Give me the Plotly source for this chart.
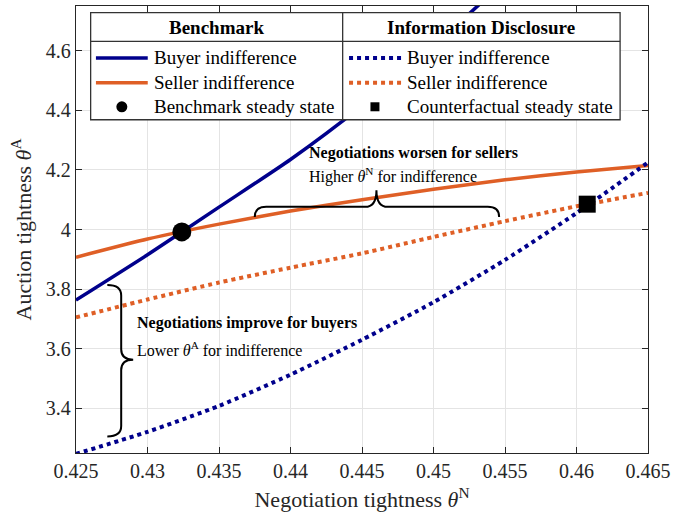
import plotly.graph_objects as go

# ---------------- data ----------------
x_grid = [0.425, 0.430, 0.435, 0.440, 0.445, 0.450, 0.455, 0.460, 0.465]
bench_buyer_x = [0.425, 0.430, 0.435, 0.440, 0.445, 0.450, 0.455]
bench_buyer_y = [3.763, 3.915, 4.075, 4.235, 4.415, 4.615, 4.835]
bench_seller_y = [3.907, 3.968, 4.018, 4.062, 4.100, 4.135, 4.167, 4.193, 4.215]
info_buyer_y = [3.247, 3.321, 3.408, 3.513, 3.630, 3.756, 3.898, 4.055, 4.225]
info_seller_y = [3.705, 3.765, 3.822, 3.872, 3.920, 3.975, 4.028, 4.078, 4.123]
bench_ss_x, bench_ss_y = [0.4324], [3.992]
counter_ss_x, counter_ss_y = [0.46075], [4.085]

x_ticks = [0.425, 0.43, 0.435, 0.44, 0.445, 0.45, 0.455, 0.46, 0.465]
x_ticklabels = ["0.425", "0.43", "0.435", "0.44", "0.445", "0.45", "0.455", "0.46", "0.465"]
y_ticks = [3.4, 3.6, 3.8, 4.0, 4.2, 4.4, 4.6]
y_ticklabels = ["3.4", "3.6", "3.8", "4", "4.2", "4.4", "4.6"]

NAVY = "#00008C"
ORANGE = "#DF5F26"
FONT = "Liberation Serif, Times New Roman, serif"
AX = "#262626"

# ---------------- figure ----------------
fig = go.Figure()
fig.add_trace(go.Scatter(x=bench_buyer_x, y=bench_buyer_y, mode="lines",
                         line=dict(color=NAVY, width=3.5, shape="spline", smoothing=0.6),
                         showlegend=False))
fig.add_trace(go.Scatter(x=x_grid, y=bench_seller_y, mode="lines",
                         line=dict(color=ORANGE, width=3.5, shape="spline", smoothing=0.6),
                         showlegend=False))
fig.add_trace(go.Scatter(x=x_grid, y=info_buyer_y, mode="lines",
                         line=dict(color=NAVY, width=4, dash="dot", shape="spline", smoothing=0.6),
                         showlegend=False))
fig.add_trace(go.Scatter(x=x_grid, y=info_seller_y, mode="lines",
                         line=dict(color=ORANGE, width=4, dash="dot", shape="spline", smoothing=0.6),
                         showlegend=False))
fig.add_trace(go.Scatter(x=bench_ss_x, y=bench_ss_y, mode="markers",
                         marker=dict(symbol="circle", size=19, color="black"),
                         showlegend=False))
fig.add_trace(go.Scatter(x=counter_ss_x, y=counter_ss_y, mode="markers",
                         marker=dict(symbol="square", size=17, color="black"),
                         showlegend=False))

# pixel -> paper helpers (plot area: x 76..650, y 5..453)
L, R, T, B = 76, 650, 5, 453
def px(v):
    return (v - L) / (R - L)
def py(v):
    return (B - v) / (B - T)

shapes = []
annotations = []

# ---- braces (data coordinates) ----
xa, xb, xm = 0.43750, 0.45459, 0.44601
ye, yl, yt = 4.042, 4.076, 4.132
r = 0.0008
shapes.append(dict(type="path", xref="x", yref="y", layer="above",
                   path=(f"M {xa},{ye} Q {xa},{yl} {xa + r},{yl} L {xm - r},{yl} "
                         f"Q {xm},{yl} {xm},{yt} Q {xm},{yl} {xm + r},{yl} "
                         f"L {xb - r},{yl} Q {xb},{yl} {xb},{ye}"),
                   line=dict(color="black", width=2)))
xe, xl, xt = 0.42719, 0.42816, 0.42900
ytop, ybot, ym = 3.8134, 3.3052, 3.5632
ry = 0.035
shapes.append(dict(type="path", xref="x", yref="y", layer="above",
                   path=(f"M {xe},{ytop} Q {xl},{ytop} {xl},{ytop - ry} L {xl},{ym + ry} "
                         f"Q {xl},{ym} {xt},{ym} Q {xl},{ym} {xl},{ym - ry} "
                         f"L {xl},{ybot + ry} Q {xl},{ybot} {xe},{ybot}"),
                   line=dict(color="black", width=2)))

# ---- manual legend ----
LEG_L, LEG_R, LEG_T, LEG_B, LEG_MID, LEG_HDR = 90.7, 622, 11.7, 119, 343.6, 40.4
shapes.append(dict(type="rect", xref="paper", yref="paper", layer="above",
                   x0=px(LEG_L), x1=px(LEG_R), y0=py(LEG_B), y1=py(LEG_T),
                   fillcolor="white", line=dict(color="#333333", width=1.3)))
shapes.append(dict(type="line", xref="paper", yref="paper", layer="above",
                   x0=px(LEG_MID), x1=px(LEG_MID), y0=py(LEG_B), y1=py(LEG_T),
                   line=dict(color="#333333", width=1.3)))
shapes.append(dict(type="line", xref="paper", yref="paper", layer="above",
                   x0=px(LEG_L), x1=px(LEG_R), y0=py(LEG_HDR), y1=py(LEG_HDR),
                   line=dict(color="#333333", width=1.3)))
row_y = [57, 82, 106]
for (c, dash, w, x0, x1, yy) in [
    (NAVY, "solid", 3.5, 96, 148, row_y[0]),
    (ORANGE, "solid", 3.5, 96, 148, row_y[1]),
    (NAVY, "dot", 4, 350, 403, row_y[0]),
    (ORANGE, "dot", 4, 350, 403, row_y[1]),
]:
    shapes.append(dict(type="line", xref="paper", yref="paper", layer="above",
                       x0=px(x0), x1=px(x1), y0=py(yy), y1=py(yy),
                       line=dict(color=c, width=w, dash=dash)))
shapes.append(dict(type="circle", xref="paper", yref="paper", layer="above",
                   xsizemode="pixel", ysizemode="pixel",
                   xanchor=px(122), yanchor=py(row_y[2]),
                   x0=-5.5, x1=5.5, y0=-5.5, y1=5.5,
                   fillcolor="black", line=dict(color="black", width=0)))
shapes.append(dict(type="rect", xref="paper", yref="paper", layer="above",
                   xsizemode="pixel", ysizemode="pixel",
                   xanchor=px(376), yanchor=py(row_y[2]),
                   x0=-4.5, x1=4.5, y0=-4.5, y1=4.5,
                   fillcolor="black", line=dict(color="black", width=0)))

def txt(x, y, s, size, anchor="left"):
    annotations.append(dict(xref="paper", yref="paper", x=px(x), y=py(y), text=s,
                            showarrow=False, xanchor=anchor, yanchor="middle",
                            font=dict(family=FONT, size=size, color="black")))

txt((LEG_L + LEG_MID) / 2, 26.5, "<b>Benchmark</b>", 19, "center")
txt((LEG_MID + LEG_R) / 2, 26.5, "<b>Information Disclosure</b>", 19, "center")
txt(152, row_y[0], "Buyer indifference", 19)
txt(152, row_y[1], "Seller indifference", 19)
txt(152, row_y[2], "Benchmark steady state", 19)
txt(406, row_y[0], "Buyer indifference", 19)
txt(406, row_y[1], "Seller indifference", 19)
txt(406, row_y[2], "Counterfactual steady state", 19)

# ---- text annotations ----
txt(308, 152, "<b>Negotiations worsen for sellers</b>", 16)
txt(308, 175, "Higher <i>θ</i><sup>N</sup> for indifference", 16)
txt(135, 323, "<b>Negotiations improve for buyers</b>", 16)
txt(135, 349, "Lower <i>θ</i><sup>A</sup> for indifference", 16)

axis_common = dict(showline=True, linecolor=AX, linewidth=1.3, mirror="ticks",
                   ticks="inside", ticklen=6, tickcolor=AX, tickwidth=1.3,
                   showgrid=True, gridcolor="#e4e4e4", gridwidth=1, zeroline=False,
                   tickfont=dict(family=FONT, size=20, color=AX))

fig.update_layout(
    width=676, height=521,
    margin=dict(l=L, r=676 - R, t=T, b=521 - B),
    paper_bgcolor="white", plot_bgcolor="white",
    shapes=shapes, annotations=annotations,
    xaxis=dict(range=[0.425, 0.465], tickvals=x_ticks, ticktext=x_ticklabels,
               title=dict(text="Negotiation tightness <i>θ</i><sup>N</sup>",
                          font=dict(family=FONT, size=22, color=AX), standoff=10),
               **axis_common),
    yaxis=dict(range=[3.25, 4.75], tickvals=y_ticks, ticktext=y_ticklabels,
               title=dict(text="Auction tightness <i>θ</i><sup>A</sup>",
                          font=dict(family=FONT, size=22, color=AX), standoff=8),
               **axis_common),
    showlegend=False,
)

fig.write_html("out.html")
